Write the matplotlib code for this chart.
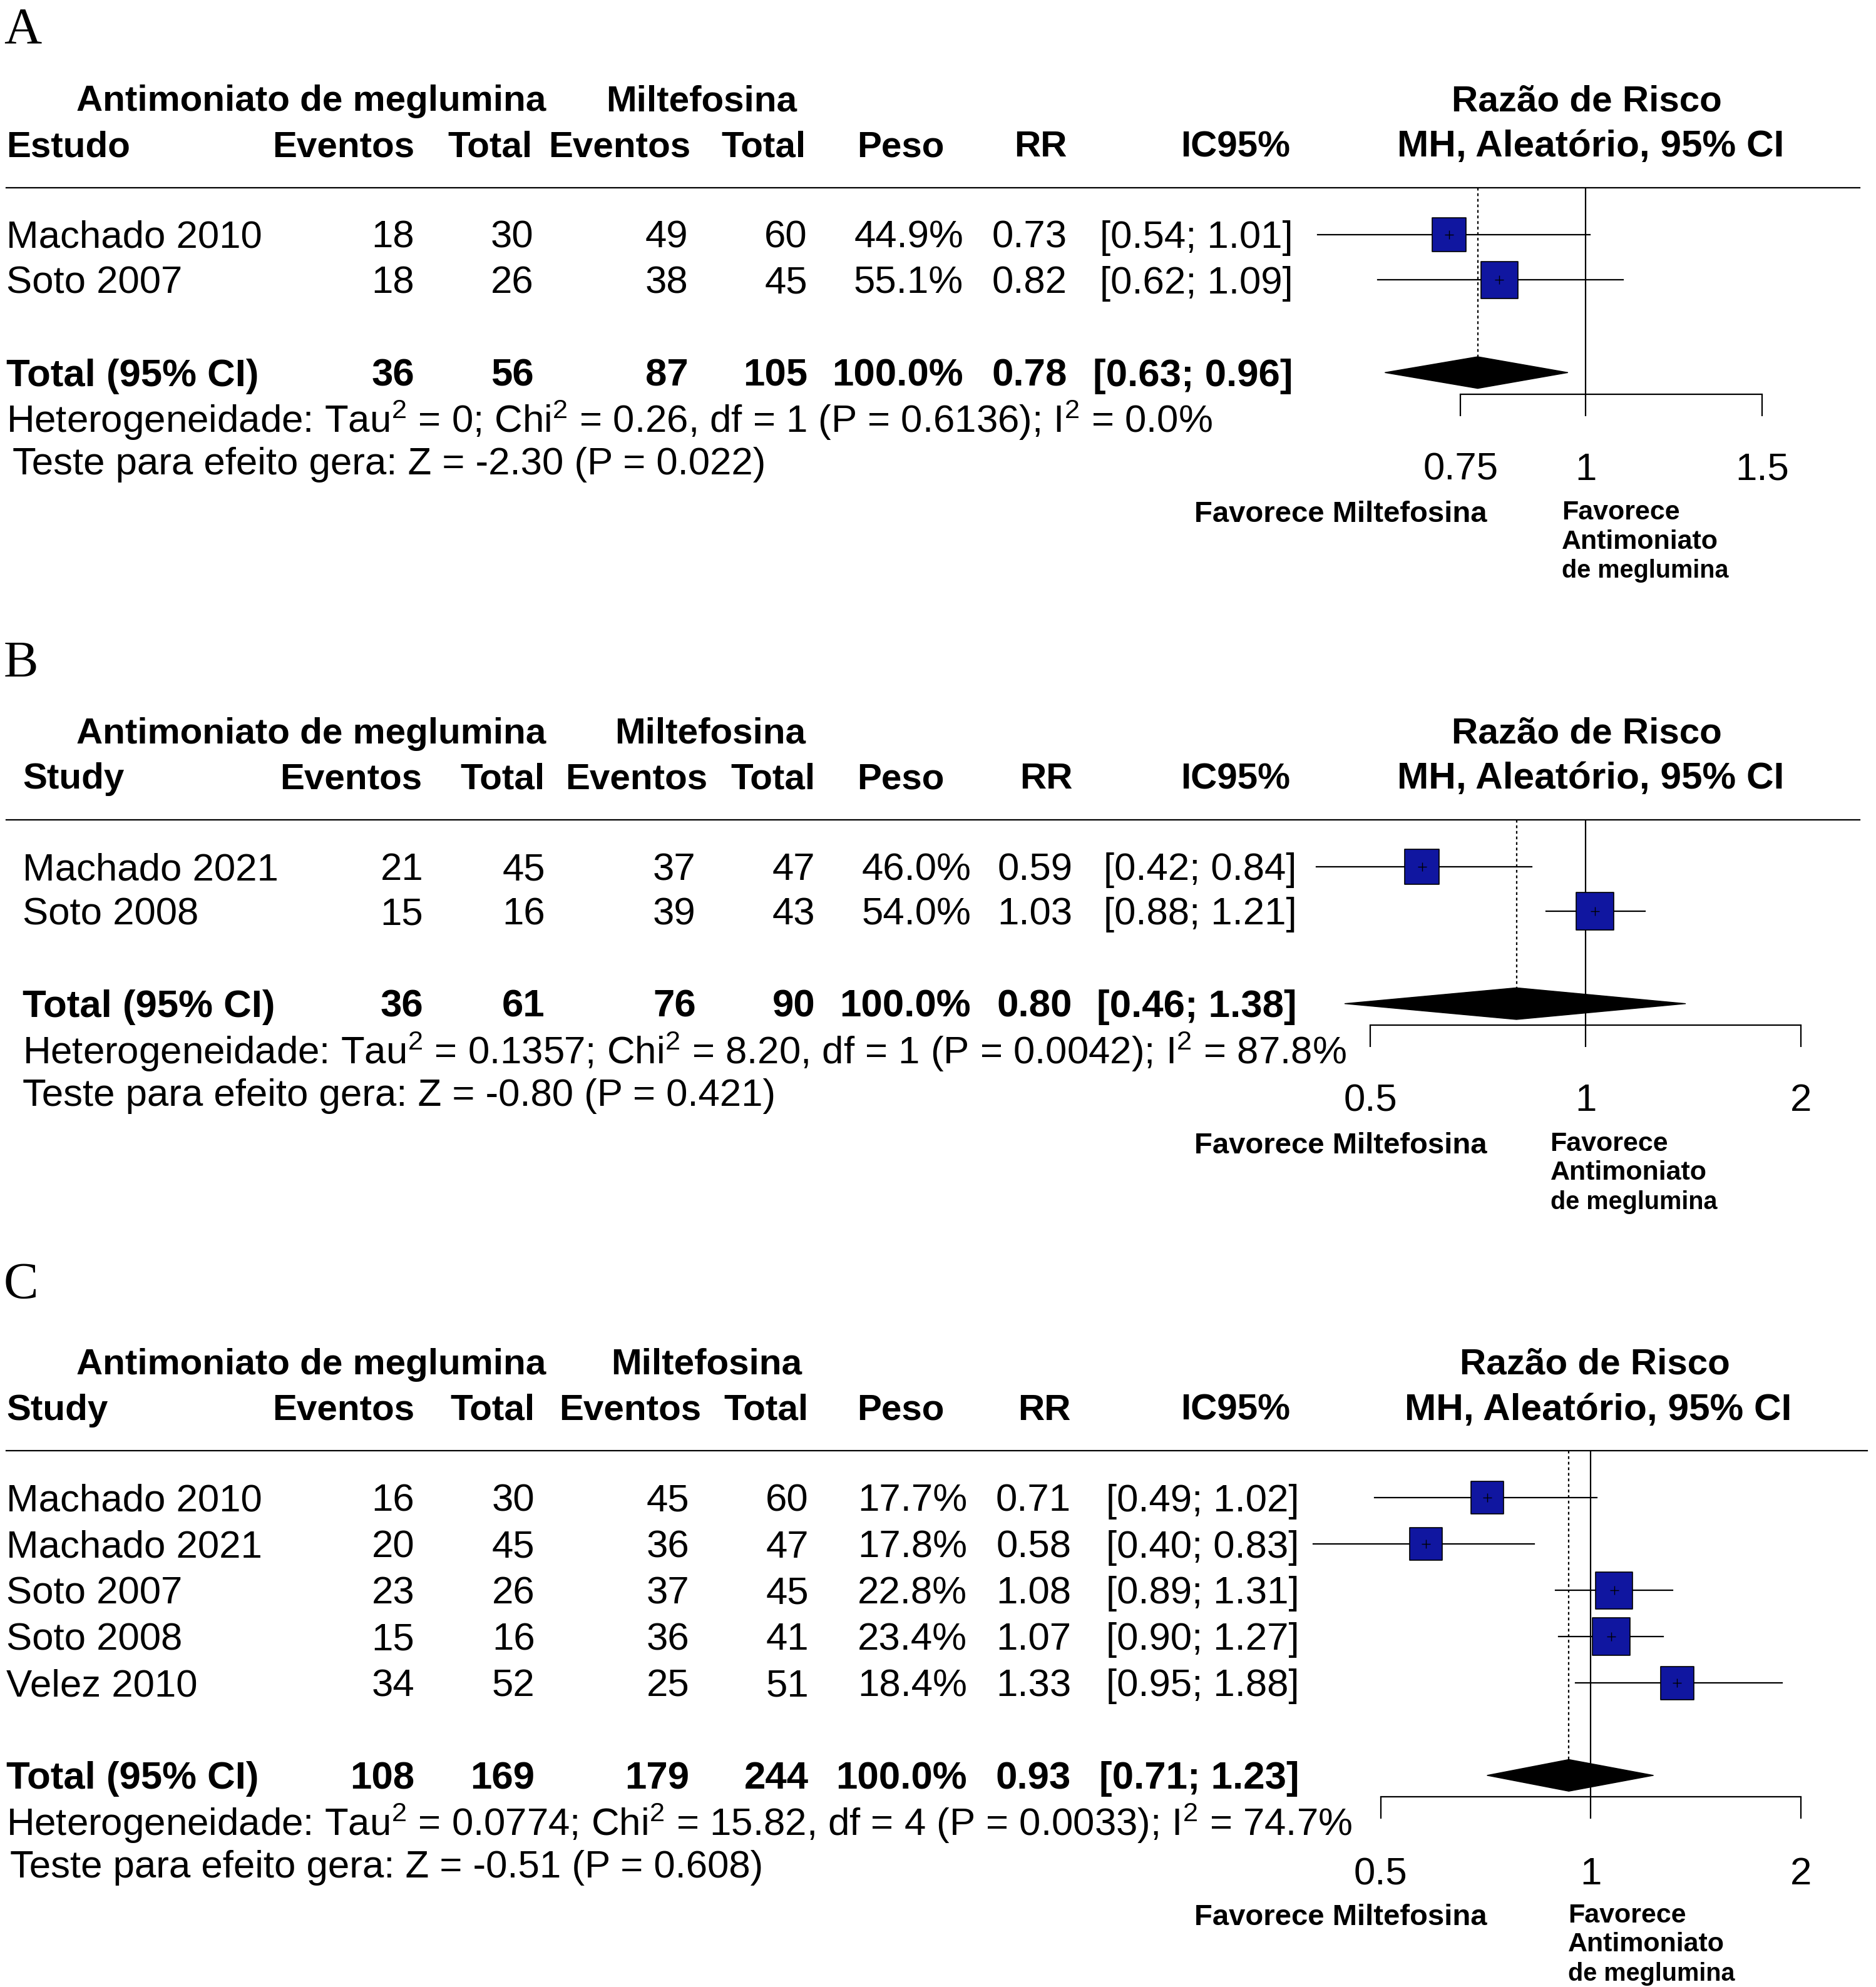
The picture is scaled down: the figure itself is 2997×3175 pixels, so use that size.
import numpy as np
import matplotlib
matplotlib.use("Agg")
import matplotlib.pyplot as plt
from matplotlib.ticker import NullLocator

plt.rcParams['font.family'] = ['Liberation Sans', 'DejaVu Sans']
plt.rcParams['mathtext.fontset'] = 'custom'
plt.rcParams['mathtext.rm'] = 'Liberation Sans'
plt.rcParams['mathtext.it'] = 'Liberation Sans:italic'
plt.rcParams['mathtext.bf'] = 'Liberation Sans:bold'

# ---- dados: painel A ----
studies_a = ["Machado 2010", "Soto 2007"]
ev_mg_a = [18, 18]
tot_mg_a = [30, 26]
ev_mf_a = [49, 38]
tot_mf_a = [60, 45]
peso_a = [44.9, 55.1]
rr_a = [0.73, 0.82]
lo_a = [0.54, 0.62]
hi_a = [1.01, 1.09]
total_a = [36, 56, 87, 105]
pooled_a = [0.78, 0.63, 0.96]
het_a = r"Heterogeneidade: Tau$^2$ = 0; Chi$^2$ = 0.26, df = 1 (P = 0.6136); I$^2$ = 0.0%"
teste_a = "Teste para efeito gera: Z = -2.30 (P = 0.022)"
ticks_a = [0.75, 1, 1.5]
ticklabels_a = ["0.75", "1", "1.5"]

# ---- dados: painel B ----
studies_b = ["Machado 2021", "Soto 2008"]
ev_mg_b = [21, 15]
tot_mg_b = [45, 16]
ev_mf_b = [37, 39]
tot_mf_b = [47, 43]
peso_b = [46.0, 54.0]
rr_b = [0.59, 1.03]
lo_b = [0.42, 0.88]
hi_b = [0.84, 1.21]
total_b = [36, 61, 76, 90]
pooled_b = [0.80, 0.46, 1.38]
het_b = r"Heterogeneidade: Tau$^2$ = 0.1357; Chi$^2$ = 8.20, df = 1 (P = 0.0042); I$^2$ = 87.8%"
teste_b = "Teste para efeito gera: Z = -0.80 (P = 0.421)"
ticks_b = [0.5, 1, 2]
ticklabels_b = ["0.5", "1", "2"]

# ---- dados: painel C ----
studies_c = ["Machado 2010", "Machado 2021", "Soto 2007", "Soto 2008", "Velez 2010"]
ev_mg_c = [16, 20, 23, 15, 34]
tot_mg_c = [30, 45, 26, 16, 52]
ev_mf_c = [45, 36, 37, 36, 25]
tot_mf_c = [60, 47, 45, 41, 51]
peso_c = [17.7, 17.8, 22.8, 23.4, 18.4]
rr_c = [0.71, 0.58, 1.08, 1.07, 1.33]
lo_c = [0.49, 0.40, 0.89, 0.90, 0.95]
hi_c = [1.02, 0.83, 1.31, 1.27, 1.88]
total_c = [108, 169, 179, 244]
pooled_c = [0.93, 0.71, 1.23]
het_c = r"Heterogeneidade: Tau$^2$ = 0.0774; Chi$^2$ = 15.82, df = 4 (P = 0.0033); I$^2$ = 74.7%"
teste_c = "Teste para efeito gera: Z = -0.51 (P = 0.608)"
ticks_c = [0.5, 1, 2]
ticklabels_c = ["0.5", "1", "2"]

# layout in "page units" (page is W x H, y grows downwards)
W, H = 1480.0, 1568.0
FS = 44.5    # body text, pt
FS_B = 42    # bold headers
FS_FAV = 34
BL = 10.5    # baseline offset from visual center
BOX = "#1016A0"

fig = plt.figure(figsize=(29.97, 31.75), dpi=100)
page = fig.add_axes([0, 0, 1, 1])
page.set_xlim(0, W); page.set_ylim(H, 0)
page.axis("off")


def txt(x, y, s, ha="left", bold=False, size=FS, bl=BL, **kw):
    page.text(x, y + bl, s, ha=ha, va="baseline", fontsize=size,
              fontweight="bold" if bold else "normal", **kw)


def panel(letter, off, letter_y, study_hdr, studies, ev1, tot1, ev2, tot2, peso, rr, lo, hi,
          total, pooled, het, teste, ticks, ticklabels, lay):
    txt(3, letter_y, letter, size=60, bl=14, family="Liberation Serif")
    y1, y2, yl = 77 + off, 113 + off, 148 + off
    txt(60, y1, "Antimoniato de meglumina", bold=True, size=FS_B)
    txt(lay["grp2"], y1, "Miltefosina", bold=True, size=FS_B)
    txt(lay["razao"], y1, "Razão de Risco", ha="center", bold=True, size=FS_B)
    txt(lay["sx"] if study_hdr != "Estudo" else 5, y2, study_hdr, bold=True, size=FS_B)
    for x, h in zip(lay["hdr"], ["Eventos", "Total", "Eventos", "Total", "Peso", "RR", "IC95%"]):
        txt(x, y2, h, ha="right", bold=True, size=FS_B)
    txt(lay["razao"] + 3, y2, "MH, Aleatório, 95% CI", ha="center", bold=True, size=FS_B + 1.5)
    page.plot([5, lay["x1"]], [yl, yl], color="black", lw=1.6)

    n = len(studies)
    rows = 185 + off + np.arange(n) * lay["step"]
    cols = lay["cols"]
    for i in range(n):
        y = rows[i]
        txt(lay["sx"], y, studies[i])
        vals = [str(ev1[i]), str(tot1[i]), str(ev2[i]), str(tot2[i]),
                f"{peso[i]:.1f}%", f"{rr[i]:.2f}", f"[{lo[i]:.2f}; {hi[i]:.2f}]"]
        for x, v in zip(cols, vals):
            txt(x, y, v, ha="right")

    yt = rows[-1] + 73
    txt(lay["sx"], yt, "Total (95% CI)", bold=True)
    vals = [str(v) for v in total] + ["100.0%", f"{pooled[0]:.2f}",
                                      f"[{pooled[1]:.2f}; {pooled[2]:.2f}]"]
    for x, v in zip(cols, vals):
        txt(x, yt, v, ha="right", bold=True)
    txt(lay["sx"], yt + 37, het)
    txt(lay["tx"], yt + 70, teste)

    # forest plot
    yaxis = yt + 17
    c, k = lay["center"], lay["k"]
    fx0, fx1 = 990, 1478
    ax = fig.add_axes([fx0 / W, 1 - yaxis / H, (fx1 - fx0) / W, (yaxis - yl) / H])
    ax.patch.set_alpha(0)
    ax.set_xscale("log")
    ax.set_xlim(np.exp((fx0 - c) / k), np.exp((fx1 - c) / k))
    ax.set_ylim(yaxis, yl)
    for s in ["top", "left", "right"]:
        ax.spines[s].set_visible(False)
    ax.spines["bottom"].set_bounds(ticks[0], ticks[-1])
    ax.spines["bottom"].set_linewidth(1.6)
    ax.set_xticks(ticks)
    ax.set_xticklabels(ticklabels)
    ax.xaxis.set_minor_locator(NullLocator())
    ax.tick_params(axis="x", direction="out", length=25, width=1.6, pad=lay["pad"], labelsize=FS)
    ax.set_yticks([])

    ax.plot([1, 1], [yl, yaxis], color="black", lw=1.6)
    ax.plot([pooled[0], pooled[0]], [yl, yt - 12.5], color="black", lw=1.6, ls=(0, (2, 2)))
    for i in range(n):
        ax.plot([lo[i], hi[i]], [rows[i], rows[i]], color="black", lw=1.6, zorder=2)
    w = np.array(peso)
    ax.scatter(rr, rows, s=1850 * w / w.max(), marker="s", color=BOX,
               edgecolor="black", linewidth=1.2, zorder=3)
    ax.scatter(rr, rows, s=90, marker="+", color="black", linewidth=1.0, zorder=4)
    ax.fill([pooled[1], pooled[0], pooled[2], pooled[0]],
            [yt, yt - 12.5, yt, yt + 12.5], color="black", zorder=3)

    yf = yt + 110
    txt(1173, yf, "Favorece Miltefosina", ha="right", bold=True, size=FS_FAV, bl=8)
    txt(lay["fav2"], yf - 2, "Favorece", bold=True, size=31, bl=8)
    txt(lay["fav2"], yf + 21, "Antimoniato", bold=True, size=31, bl=8)
    txt(lay["fav2"], yf + 44, "de meglumina", bold=True, size=28.5, bl=8)


panel("A", 0, 20, "Estudo", studies_a, ev_mg_a, tot_mg_a, ev_mf_a, tot_mf_a, peso_a,
      rr_a, lo_a, hi_a, total_a, pooled_a, het_a, teste_a, ticks_a, ticklabels_a,
      dict(sx=5, tx=10, cols=[327, 421, 543, 637, 760, 842, 1020],
           hdr=[327, 420, 545, 636, 745, 842, 1018], grp2=478, razao=1252, x1=1467,
           center=1251, k=343, fav2=1232, step=36, pad=42))
panel("B", 499, 520, "Study", studies_b, ev_mg_b, tot_mg_b, ev_mf_b, tot_mf_b, peso_b,
      rr_b, lo_b, hi_b, total_b, pooled_b, het_b, teste_b, ticks_b, ticklabels_b,
      dict(sx=18, tx=18, cols=[334, 430, 549, 643, 766, 846, 1023],
           hdr=[333, 430, 558, 643, 745, 846, 1018], grp2=485, razao=1252, x1=1467,
           center=1251, k=245, fav2=1223, step=35, pad=42))
panel("C", 997, 1010, "Study", studies_c, ev_mg_c, tot_mg_c, ev_mf_c, tot_mf_c, peso_c,
      rr_c, lo_c, hi_c, total_c, pooled_c, het_c, teste_c, ticks_c, ticklabels_c,
      dict(sx=5, tx=8, cols=[327, 422, 544, 638, 763, 845, 1025],
           hdr=[327, 422, 553, 638, 745, 845, 1018], grp2=482, razao=1258, x1=1473,
           center=1255, k=239, fav2=1237, step=36.5, pad=44))

fig.savefig("out.png", dpi=100)
